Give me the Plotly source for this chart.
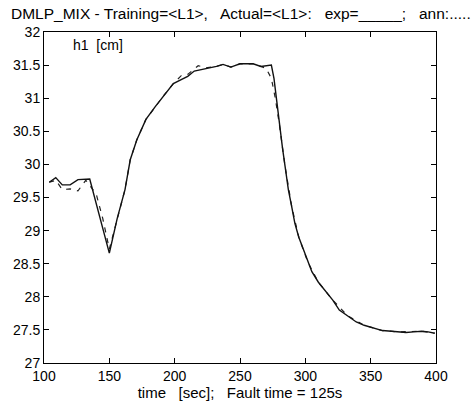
import plotly.graph_objects as go

# ---- data ----
exp_t = [104, 109, 114, 120, 126, 135, 150, 156, 162, 166, 171, 178, 185, 192,
         199, 205, 210, 215, 220, 224, 227, 232, 237, 243, 250, 255, 260, 266,
         270, 274, 276, 278, 280, 282.5, 284.5, 287, 289.6, 292, 295, 298.5,
         302, 305, 310, 316, 321, 326, 332, 339, 345, 349, 354, 359, 366, 372,
         377, 383, 389, 394, 399]
exp_v = [29.73, 29.80, 29.69, 29.69, 29.77, 29.78, 28.66, 29.18, 29.62, 30.07,
         30.37, 30.68, 30.87, 31.05, 31.22, 31.28, 31.33, 31.41, 31.43, 31.44,
         31.46, 31.48, 31.51, 31.47, 31.52, 31.52, 31.52, 31.48, 31.49, 31.50,
         31.30, 30.95, 30.62, 30.25, 29.97, 29.62, 29.36, 29.11, 28.90, 28.71,
         28.52, 28.38, 28.22, 28.08, 27.95, 27.80, 27.72, 27.62, 27.57, 27.55,
         27.52, 27.49, 27.48, 27.47, 27.46, 27.47, 27.48, 27.47, 27.45]

ann_t = [104, 109, 114, 120, 126, 132, 140, 145, 150, 156, 162, 166, 171, 178,
         185, 192, 199, 205, 210, 218, 224, 232, 237, 243, 250, 255, 260, 266,
         270, 274, 277, 280, 284.5, 289.6, 295, 302, 310, 321, 332, 345, 359,
         372, 389, 399]
ann_v = [29.73, 29.76, 29.62, 29.63, 29.60, 29.76, 29.55, 29.18, 28.72, 29.18,
         29.62, 30.07, 30.37, 30.68, 30.87, 31.05, 31.22, 31.34, 31.36, 31.49,
         31.46, 31.48, 31.51, 31.47, 31.52, 31.52, 31.52, 31.48, 31.45, 31.30,
         31.00, 30.62, 29.97, 29.36, 28.90, 28.52, 28.22, 27.95, 27.72, 27.57,
         27.49, 27.47, 27.48, 27.45]

x_ticks = [100, 150, 200, 250, 300, 350, 400]
y_ticks = [27, 27.5, 28, 28.5, 29, 29.5, 30, 30.5, 31, 31.5, 32]
y_ticktext = ["27", "27.5", "28", "28.5", "29", "29.5", "30", "30.5", "31", "31.5", "32"]

title_text = ("DMLP_MIX - Training=&lt;L1&gt;,\u00a0\u00a0 Actual=&lt;L1&gt;:\u00a0\u00a0 "
              "exp=_____;\u00a0\u00a0 ann:.....")
xlabel = "time\u00a0\u00a0 [sec];\u00a0\u00a0 Fault time = 125s"
panel_label = "h1\u00a0 [cm]"

FONT = "Liberation Sans, Arial, Helvetica, sans-serif"

fig = go.Figure()
fig.add_trace(go.Scatter(x=ann_t, y=ann_v, mode="lines",
                         line=dict(color="#222", width=1.2, dash="5px,6px"),
                         name="ann", showlegend=False))
fig.add_trace(go.Scatter(x=exp_t, y=exp_v, mode="lines",
                         line=dict(color="#111", width=1.4),
                         name="exp", showlegend=False))

axis_common = dict(showline=True, linecolor="black", linewidth=1, mirror="ticks",
                   ticks="inside", ticklen=5, tickcolor="black", showgrid=False,
                   zeroline=False, tickfont=dict(size=14, color="black", family=FONT))

fig.update_xaxes(range=[100, 400], tickvals=x_ticks, **axis_common,
                 title=dict(text=xlabel, font=dict(size=15, color="black", family=FONT),
                            standoff=2))
fig.update_yaxes(range=[27, 32], tickvals=y_ticks, ticktext=y_ticktext, **axis_common)

fig.add_annotation(xref="paper", yref="paper", x=0.068, y=0.962,
                   xanchor="left", yanchor="middle", showarrow=False,
                   text=panel_label, font=dict(size=14, color="black", family=FONT))

fig.update_layout(
    width=473, height=411,
    margin=dict(l=44, r=37, t=32, b=48),
    paper_bgcolor="white", plot_bgcolor="white",
    font=dict(family=FONT, size=14, color="black"),
    title=dict(text=title_text, x=11 / 473, xanchor="left", xref="container",
               y=1 - 14 / 411, yanchor="middle",
               font=dict(size=15.5, color="black", family=FONT)),
)

fig.write_html("out.html", config={"displayModeBar": False},
               post_script="document.body.style.margin='0';"
                           "document.body.style.overflow='hidden';")
